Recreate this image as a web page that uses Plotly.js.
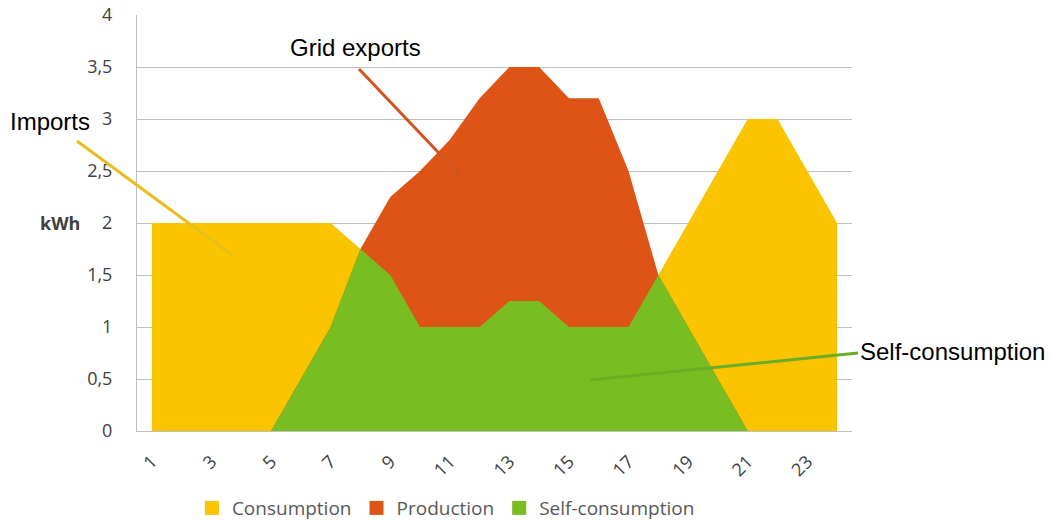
<!DOCTYPE html>
<html>
<head>
<meta charset="utf-8">
<script src="https://cdn.plot.ly/plotly-3.0.1.min.js"></script>
<style>html,body{margin:0;padding:0;background:#fff;}#chart{width:1052px;height:520px;}</style>
</head>
<body>
<div id="chart"></div>
<script>
const hours = [1,2,3,4,5,6,7,8,9,10,11,12,13,14,15,16,17,18,19,20,21,22,23,24];
const consumption = [2,2,2,2,2,2,2,1.75,1.5,1,1,1,1.25,1.25,1,1,1,1.5,2,2.5,3,3,2.5,2];
const production = [0,0,0,0,0,0.5,1,1.75,2.25,2.5,2.8,3.2,3.5,3.5,3.2,3.2,2.5,1.5,1,0.5,0,0,0,0];
const selfConsumption = [0,0,0,0,0,0.5,1,1.75,1.5,1,1,1,1.25,1.25,1,1,1,1.5,1,0.5,0,0,0,0];
const seriesNames = ["Consumption","Production","Self-consumption"];
const seriesColors = ["#FBC401","#DE5316","#78BD22"];
const xTicks = [1,3,5,7,9,11,13,15,17,19,21,23];
const yTicks = [0,0.5,1,1.5,2,2.5,3,3.5,4];

const seriesData = [consumption, production, selfConsumption];
const traces = [];
seriesData.forEach((vals, i) => {
  traces.push({
    x: hours, y: vals, type: 'scatter', mode: 'lines', fill: 'tozeroy',
    line: {width: 0, color: seriesColors[i]}, fillcolor: seriesColors[i],
    showlegend: false, hoverinfo: 'skip'
  });
});
seriesNames.forEach((n, i) => {
  traces.push({
    x: [null], y: [null], type: 'scatter', mode: 'markers', name: n,
    marker: {symbol: 'square', size: 14, color: seriesColors[i]}, showlegend: true
  });
});

const layout = {
  width: 1052, height: 520,
  margin: {l: 137, r: 200, t: 15, b: 89},
  paper_bgcolor: '#fff', plot_bgcolor: '#fff',
  separators: ',.',
  showlegend: true,
  legend: {orientation: 'h', x: 0.432, xanchor: 'center', xref: 'paper', y: 0.023, yref: 'container', yanchor: 'middle',
    font: {family: 'Open Sans', size: 19, color: '#595959'}, itemwidth: 30, tracegroupgap: 0},
  xaxis: {
    range: [0.5, 24.5], tickmode: 'array', tickvals: xTicks, ticktext: xTicks.map(String),
    tickangle: -45, showgrid: false, zeroline: false, showline: true, linecolor: '#BFBFBF', linewidth: 1,
    ticks: '', ticklabelstandoff: 12, automargin: false,
    tickfont: {family: 'Open Sans', size: 18, color: '#404040'}, fixedrange: true
  },
  yaxis: {
    range: [0, 4], tickmode: 'array', tickvals: yTicks, ticktext: yTicks.map(v => String(v).replace('.', ',')),
    showgrid: true, gridcolor: '#BFBFBF', gridwidth: 1, zeroline: false, automargin: false,
    showline: true, linecolor: '#BFBFBF', linewidth: 1, ticks: '', ticklabelstandoff: 20,
    tickfont: {family: 'Open Sans', size: 18, color: '#404040'}, fixedrange: true
  },
  shapes: [
    {type: 'line', xref: 'paper', yref: 'paper', x0: -0.084, y0: 0.697, x1: 0.133, y1: 0.423,
      line: {color: '#E9BE1C', width: 3}},
    {type: 'line', xref: 'paper', yref: 'paper', x0: 0.3105, y0: 0.870, x1: 0.4517, y1: 0.615,
      line: {color: '#D2541E', width: 3}},
    {type: 'line', xref: 'paper', yref: 'paper', x0: 1.0084, y0: 0.1875, x1: 0.6336, y1: 0.1226,
      line: {color: '#6AAE28', width: 3}}
  ],
  annotations: [
    {text: 'kWh', xref: 'paper', yref: 'y', x: -0.107, y: 2, showarrow: false, xanchor: 'center', yanchor: 'middle',
      font: {family: 'Open Sans', size: 18, color: '#404040', weight: 'bold'}},
    {text: 'Grid exports', xref: 'paper', yref: 'paper', x: 0.3049, y: 0.923, showarrow: false, xanchor: 'center', yanchor: 'middle',
      font: {family: 'Liberation Sans, Arial', size: 24, color: '#000'}},
    {text: 'Imports', xref: 'paper', yref: 'paper', x: -0.1217, y: 0.743, showarrow: false, xanchor: 'center', yanchor: 'middle',
      font: {family: 'Liberation Sans, Arial', size: 24, color: '#000'}},
    {text: 'Self-consumption', xref: 'paper', yref: 'paper', x: 1.0084, y: 0.19, showarrow: false, xanchor: 'left', yanchor: 'middle',
      font: {family: 'Liberation Sans, Arial', size: 24, color: '#000'}}
  ]
};

Plotly.newPlot('chart', traces, layout, {staticPlot: true, displayModeBar: false});
</script>
</body>
</html>
